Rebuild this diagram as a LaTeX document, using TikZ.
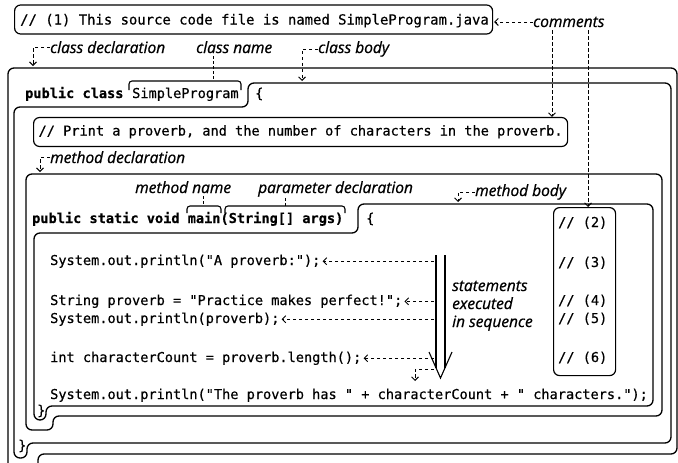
\documentclass[tikz,border=0pt]{standalone}
\usepackage{fontspec}
\setmonofont{DejaVu Sans Mono}[FakeBold=0.5]
\newfontfamily\labelfont{Open Sans}[FakeBold=0.8]
\usetikzlibrary{arrows.meta}
\begin{document}
\begin{tikzpicture}[x=1pt,y=-1pt,
  code/.style={anchor=base west,inner sep=0pt,font=\fontsize{13.6}{16}\selectfont\ttfamily},
  kw/.style={code,font=\fontsize{13.6}{16}\selectfont\ttfamily\bfseries},
  lbl/.style={anchor=base west,inner sep=0pt,font=\fontsize{15.5}{18}\selectfont\labelfont\itshape},
  contour/.style={line width=1.3pt,rounded corners=6pt},
  notebox/.style={draw,line width=1.2pt,rounded corners=6pt,anchor=west,inner xsep=5pt,inner ysep=8pt,
    text height=10pt,text depth=3pt,font=\fontsize{13.6}{16}\selectfont\ttfamily},
  frame/.style={draw,line width=1.2pt,rounded corners=6pt,inner sep=0pt},
  brk/.style={line width=1.1pt,rounded corners=3pt},
  pointer/.style={line width=0.9pt,dash pattern=on 3.5pt off 2.5pt,-{Straight Barb[length=3.5pt,width=7pt]}},
  tick/.style={line width=0.9pt,dash pattern=on 3pt off 2pt},
]
\useasboundingbox (0,0) rectangle (678,463);
\clip (0,0) rectangle (678,463);
\fill[white] (0,0) rectangle (678,463);

% file comment and the "comments" label
\node[frame,anchor=west,minimum width=478pt,minimum height=29pt] (c1) at (14,19.5) {};
\node[code,font=\fontsize{13.9}{16}\selectfont\ttfamily] (c1t) at (20,24.5) {// (1) This source code file is named SimpleProgram.java};
\node[lbl] (cm) at (533,27) {comments};

% class declaration, class body, method declaration, method body
\draw[contour] (8,300) -- (8,68) -- (677,68) -- (677,454) -- (38,454) -- (38,495) -- (8,495) -- cycle;
\draw[contour] (248,95) -- (248,83) -- (671,83) -- (671,443) -- (27,443) -- (27,458) -- (14,458) -- (14,107) -- (248,107) -- cycle;
\draw[contour] (26,300) -- (26,174) -- (662,174) -- (662,416) -- (53,416) -- (53,430) -- (26,430) -- cycle;
\draw[contour] (358,218) -- (358,204) -- (653,204) -- (653,406) -- (46,406) -- (46,420) -- (34,420) -- (34,233) -- (358,233) -- cycle;

% labels above the class
\node[lbl] (cd) at (50,53) {class declaration};
\node[lbl] (cn) at (196,53) {class name};
\node[lbl] (cb) at (318,53) {class body};

% class header
\node[kw] (pc) at (25,98) {public class};
\node[code] (sp) at (132,98) {SimpleProgram};
\node[code] (ob1) at (255,98) {\{};
\draw[brk] (129,90) -- (129,81) -- (241,81) -- (241,90);

% comment inside the class body
\node[notebox] (c2) at (33,132) {// Print a proverb, and the number of characters in the proverb.};

% labels above the method
\node[lbl] (md) at (50,163) {method declaration};
\node[lbl] (mn) at (135,193) {method name};
\node[lbl] (pd) at (258,193) {parameter declaration};
\node[lbl] (mb) at (475,196) {method body};

% method header
\node[kw] (mh) at (32,223) {public static void main(String[] args)};
\node[code] (ob2) at (366,223) {\{};
\draw[brk] (187,213) -- (187,206) -- (221,206) -- (221,213);
\draw[brk] (225,213) -- (225,206) -- (345,206) -- (345,213);

% statements
\node[code] (s1) at (50,265) {System.out.println("A proverb:");};
\node[code] (s2) at (50,305) {String proverb = "Practice makes perfect!";};
\node[code] (s3) at (50,323) {System.out.println(proverb);};
\node[code] (s4) at (50,362) {int characterCount = proverb.length();};
\node[code] (s5) at (50,399) {System.out.println("The proverb has " + characterCount + " characters.");};
\node[code] (cb2) at (37,415) {\}};
\node[code] (cb1) at (18,450) {\}};

% numbered end-of-line comments
\node[frame,minimum width=62pt,minimum height=168pt,anchor=north west] (nb) at (553,207) {};
\node[code] (n2) at (558,227) {// (2)};
\node[code] (n3) at (558,267) {// (3)};
\node[code] (n4) at (558,305) {// (4)};
\node[code] (n5) at (558,323) {// (5)};
\node[code] (n6) at (558,362) {// (6)};

% sequence arrow
\draw[line width=1.1pt] (436,255) -- (436,368) (445,255) -- (445,368);
\draw[line width=1.1pt] (429,352) -- (440.5,378) -- (452,352);
\node[lbl] (st1) at (452,291) {statements};
\node[lbl] (st2) at (452,309) {executed};
\node[lbl] (st3) at (452,327) {in sequence};

% pointers
\coordinate (k1) at (552,0);
\coordinate (k2) at (588,0);
\coordinate (shaft) at (434,0);
\coordinate (t1) at (33,66);
\coordinate (t2) at (302,81);
\coordinate (t3) at (40,172);
\coordinate (t4) at (458,202);
\coordinate (hs) at (434,369);
\coordinate (hk) at (415,381);
\coordinate (tk1) at (213,80);
\coordinate (tk2) at (203,206);
\coordinate (tk3) at (285,206);

\draw[pointer,shorten >=1pt] (cm.west) -- (cm.west -| c1.east);
\draw[pointer,shorten <=3pt] (cm.south -| k1) -- (c2.north -| k1);
\draw[pointer,shorten <=3pt] (cm.south -| k2) -- (nb.north -| k2);

\draw[pointer] (cd.west) -| (t1);
\draw[pointer] (cb.west) -| (t2);
\draw[pointer] (md.west) -| (t3);
\draw[pointer] (mb.west) -| (t4);

\draw[tick,shorten <=3pt] (cn.south -| tk1) -- (tk1);
\draw[tick,shorten <=3pt] (mn.south -| tk2) -- (tk2);
\draw[tick,shorten <=1pt] (pd.south -| tk3) -- (tk3);

\draw[pointer,shorten >=2pt] (s1.east -| shaft) -- (s1.east);
\draw[pointer,shorten >=2pt] (s2.east -| shaft) -- (s2.east);
\draw[pointer,shorten >=2pt] (s3.east -| shaft) -- (s3.east);
\draw[pointer,shorten >=2pt] (s4.east -| shaft) -- (s4.east);
\draw[pointer] (hs) -| (hk);
\end{tikzpicture}
\end{document}
